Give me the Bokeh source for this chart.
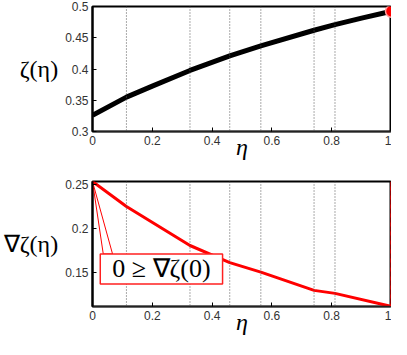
from bokeh.plotting import figure
from bokeh.layouts import column
from bokeh.models import Span, Label, FixedTicker, Range1d, BoxAnnotation
from bokeh.embed import file_html
from bokeh.resources import INLINE

# ---- data ----
eta_lines = [0.1135, 0.326, 0.459, 0.563, 0.741, 0.811]
top_x = [0.0, 0.1135, 0.2, 0.326, 0.459, 0.563, 0.741, 0.811, 0.9, 1.0]
top_y = [0.326, 0.355, 0.3726, 0.3977, 0.421, 0.437, 0.462, 0.471, 0.4813, 0.4924]
bot_x = [0.0, 0.1135, 0.326, 0.459, 0.563, 0.741, 0.811, 1.0]
bot_y = [0.2535, 0.2252, 0.1809, 0.1614, 0.1507, 0.130, 0.1266, 0.1117]
x_ticks = [0, 0.2, 0.4, 0.6, 0.8, 1]
top_yticks = [0.3, 0.35, 0.4, 0.45, 0.5]
bot_yticks = [0.15, 0.2, 0.25]
top_ylabel = "ζ(η)"
bot_ylabel = "∇ζ(η)"
xlabel = "η"
callout_text = "0 ≥ ∇ζ(0)"
callout_box = dict(left=0.026, right=0.435, bottom=0.1372, top=0.1713)
pointer_x = [0.0, 0.036, 0.067]
pointer_y = [0.2535, 0.1713, 0.1713]

W = 391


def fmt(t):
    return f"{t:g}"


def style(p, yticks, ylabel):
    p.xaxis.ticker = FixedTicker(ticks=x_ticks)
    p.yaxis.ticker = FixedTicker(ticks=yticks)
    p.xaxis.major_label_overrides = {t: fmt(t) for t in x_ticks}
    p.yaxis.major_label_overrides = {t: fmt(t) for t in yticks}
    for ax in (p.xaxis[0], p.yaxis[0]):
        ax.major_tick_in = 4
        ax.major_tick_out = 0
        ax.minor_tick_line_color = None
        ax.major_tick_line_color = "black"
        ax.axis_line_color = "black"
        ax.axis_line_width = 2
        ax.major_label_text_font = "Liberation Sans"
        ax.major_label_text_font_size = "12px"
        ax.major_label_text_color = "#333333"
    p.xaxis.axis_line_width = 1.5
    p.xaxis.axis_line_color = "#222222"
    p.xaxis.major_label_standoff = 4
    p.xaxis.axis_label = xlabel
    p.xaxis.axis_label_standoff = -14
    p.xaxis.axis_label_text_font = "Liberation Serif"
    p.xaxis.axis_label_text_font_size = "24px"
    p.xaxis.axis_label_text_font_style = "italic"
    p.xaxis.axis_label_text_color = "black"
    p.yaxis.major_label_standoff = 4
    p.yaxis.axis_label = ylabel
    p.yaxis.axis_label_orientation = "horizontal"
    p.yaxis.axis_label_standoff = 4
    p.yaxis.axis_label_text_font = "Liberation Serif"
    p.yaxis.axis_label_text_font_size = "24px"
    p.yaxis.axis_label_text_font_style = "normal"
    p.yaxis.axis_label_text_color = "black"
    p.xgrid.grid_line_color = None
    p.ygrid.grid_line_color = None
    p.background_fill_color = "white"
    p.border_fill_color = "white"
    p.outline_line_color = "black"
    p.outline_line_width = 2
    for xl in eta_lines:
        p.add_layout(Span(location=xl, dimension="height", line_color="#555555",
                          line_width=1, line_dash="1 2"))


# ---- top panel ----
top = figure(width=W, height=175, output_backend="svg", toolbar_location=None,
             x_range=Range1d(0, 1), y_range=Range1d(min(top_yticks), max(top_yticks)),
             min_border_left=83, min_border_right=0, min_border_top=6, min_border_bottom=44)
style(top, top_yticks, top_ylabel)
top.line(top_x, top_y, line_color="black", line_width=5)
top.scatter([top_x[-1]], [top_y[-1]], size=12, fill_color="red",
            line_color="#ff9a9a", line_width=1.5)

# ---- bottom panel ----
bot = figure(width=W, height=164, output_backend="svg", toolbar_location=None,
             x_range=Range1d(0, 1), y_range=Range1d(min(bot_y), max(bot_y)),
             min_border_left=83, min_border_right=0, min_border_top=6, min_border_bottom=33)
style(bot, bot_yticks, bot_ylabel)
bot.add_layout(Span(location=1, dimension="height", line_color="red", line_width=2.5))
bot.add_layout(Span(location=1, dimension="height", line_color="black", line_width=1.5,
                    line_dash="5 4"))
bot.line(bot_x, bot_y, line_color="red", line_width=3)
bot.patch(pointer_x, pointer_y, fill_color="white", line_color="red", line_width=1)
bot.add_layout(BoxAnnotation(fill_color="white", fill_alpha=1.0, line_color="#ff2020",
                             line_width=1.5, line_alpha=1.0, **callout_box))
bot.add_layout(Label(x=(callout_box["left"] + callout_box["right"]) / 2,
                     y=(callout_box["bottom"] + callout_box["top"]) / 2,
                     text=callout_text, text_align="center", text_baseline="middle",
                     text_font="Liberation Serif", text_font_size="26px",
                     text_color="black"))

layout = column(top, bot, spacing=0)
open("out.html", "w").write(file_html(layout, INLINE))
